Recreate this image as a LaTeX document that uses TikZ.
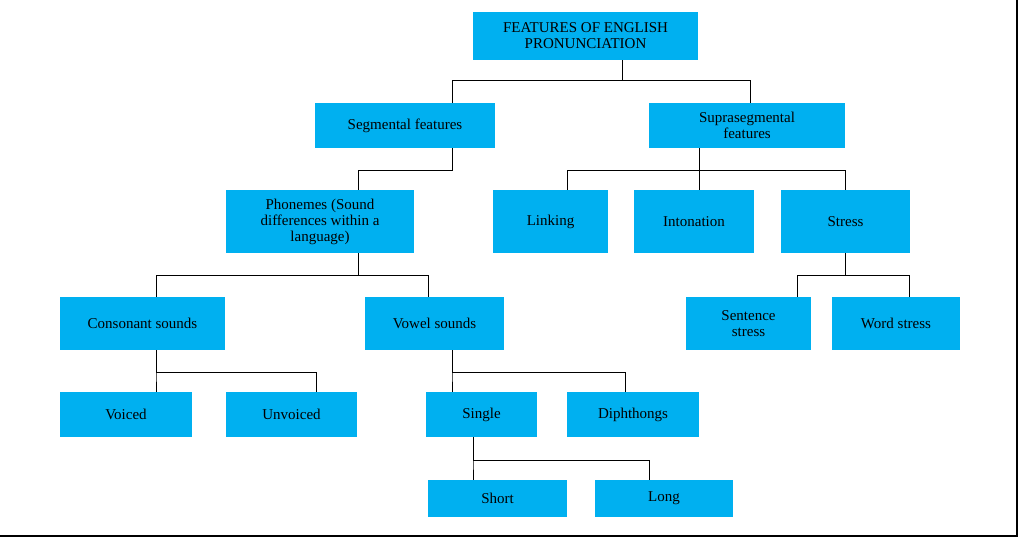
\documentclass[tikz,border=0pt]{standalone}
\usepackage{fontspec}
\setmainfont{Liberation Serif}
\begin{document}
\begin{tikzpicture}[x=1pt,y=-1pt,
  bx/.style={fill=cyan!80!blue!60!cyan, fill={rgb,255:red,0;green,176;blue,240}, inner sep=0pt, align=center, font=\fontsize{15}{16}\selectfont},
  ln/.style={draw=black, line width=0.8pt}]
\useasboundingbox (0,0) rectangle (1022,538);
\fill[white] (0,0) rectangle (1022,538);
\newcommand{\bxn}[6]{\node[bx, minimum width={#4-#2}, minimum height={#5-#3}] (#1) at ({(#2+#4)/2},{(#3+#5)/2}) {#6};}
\bxn{root}{473}{12}{698}{60}{FEATURES OF ENGLISH\\PRONUNCIATION}
\bxn{seg}{315}{103}{495}{148}{Segmental features}
\bxn{sup}{649}{103}{845}{148}{Suprasegmental\\features}
\bxn{pho}{226}{190}{414}{253}{Phonemes (Sound\\differences within a\\language)}
\bxn{lnk}{493}{190}{608}{253}{Linking}
\bxn{int}{634}{190}{754}{253}{Intonation}
\bxn{str}{781}{190}{910}{253}{Stress}
\bxn{con}{60}{297}{225}{350}{Consonant sounds}
\bxn{vow}{365}{297}{504}{350}{Vowel sounds}
\bxn{sen}{686}{297}{811}{350}{Sentence\\stress}
\bxn{wor}{832}{297}{960}{350}{Word stress}
\bxn{voi}{60}{392}{192}{437}{Voiced}
\bxn{unv}{226}{392}{357}{437}{Unvoiced}
\bxn{sin}{426}{392}{537}{437}{Single}
\bxn{dip}{567}{392}{699}{437}{Diphthongs}
\bxn{sho}{428}{480}{567}{517}{Short}
\bxn{lon}{595}{480}{733}{517}{Long}
\draw[ln] (root.south -| 622,0) -- ++(0,20) -| (seg.north -| 452,0);
\draw[ln] (root.south -| 622,0) -- ++(0,20) -| (sup.north -| 750,0);
\draw[ln] (seg.south -| 452,0) -- ++(0,22) -| (pho.north -| 358,0);
\draw[ln] (sup.south -| 699,0) -- ++(0,22) -| (lnk.north -| 567,0);
\draw[ln] (sup.south -| 699,0) -- (int.north -| 699,0);
\draw[ln] (sup.south -| 699,0) -- ++(0,22) -| (str.north -| 845,0);
\draw[ln] (pho.south -| 358,0) -- ++(0,22) -| (con.north -| 156,0);
\draw[ln] (pho.south -| 358,0) -- ++(0,22) -| (vow.north -| 428,0);
\draw[ln] (str.south -| 845,0) -- ++(0,22) -| (sen.north -| 797,0);
\draw[ln] (str.south -| 845,0) -- ++(0,22) -| (wor.north -| 909,0);
\draw[ln] (con.south -| 156,0) -- ++(0,22) -| (voi.north -| 156,0);
\draw[ln] (con.south -| 156,0) -- ++(0,22) -| (unv.north -| 316,0);
\draw[ln] (vow.south -| 452,0) -- ++(0,22) -| (sin.north -| 452,0);
\draw[ln] (vow.south -| 452,0) -- ++(0,22) -| (dip.north -| 625,0);
\draw[ln] (sin.south -| 473,0) -- ++(0,23) -| (sho.north -| 473,0);
\draw[ln] (sin.south -| 473,0) -- ++(0,23) -| (lon.north -| 649,0);
\draw[line width=2pt] (1017,0) -- (1017,536) -- (0,536);
\end{tikzpicture}
\end{document}
